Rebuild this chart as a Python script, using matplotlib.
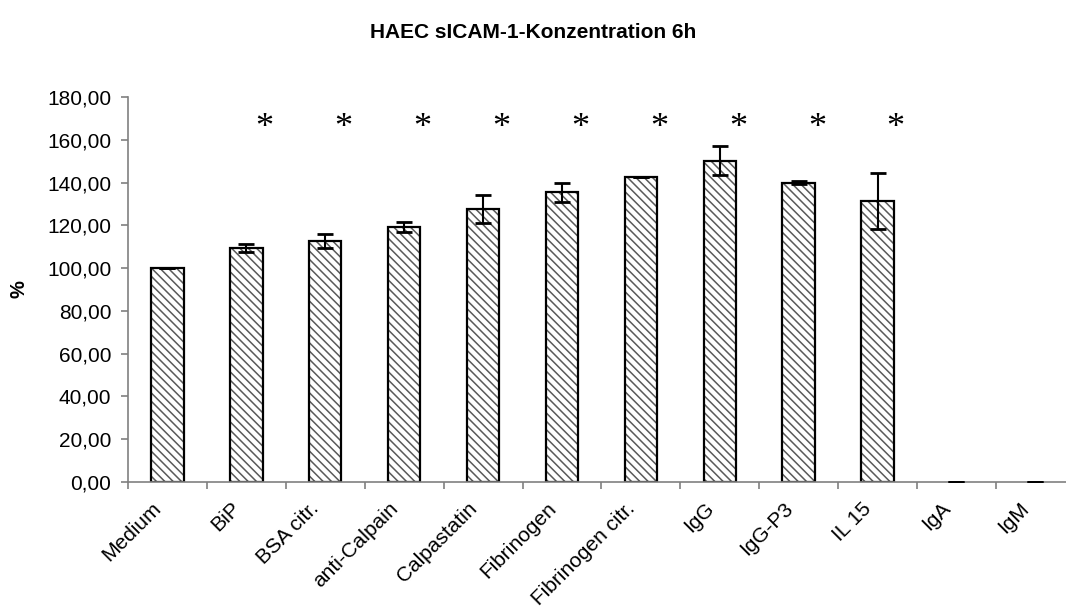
import matplotlib
matplotlib.use("Agg")
import matplotlib.pyplot as plt
import numpy as np

plt.rcParams['font.family'] = ['Liberation Sans', 'DejaVu Sans']
plt.rcParams['hatch.linewidth'] = 1.1

categories = ["Medium", "BiP", "BSA citr.", "anti-Calpain", "Calpastatin", "Fibrinogen",
              "Fibrinogen citr.", "IgG", "IgG-P3", "IL 15", "IgA", "IgM"]
values = [100.0, 109.3, 112.8, 119.3, 127.8, 135.4, 142.8, 150.3, 140.0, 131.5, 0.0, 0.0]
errors = [0.0, 1.8, 3.2, 2.2, 6.5, 4.3, 0.0, 7.0, 0.6, 13.0, 0.0, 0.0]
significant = [False, True, True, True, True, True, True, True, True, True, False, False]

fig = plt.figure(figsize=(10.66, 6.13), dpi=100)
ax = fig.add_axes([128 / 1066, 1 - 482 / 613, 12 * 78.9 / 1066, 385 / 613])

x = np.arange(len(categories))
lw = [1.6 if v > 0 else 0 for v in values]
# hatch layer, then outline layer
ax.bar(x, values, width=0.41, color='white', edgecolor='#5a5a5a', hatch='\\\\\\\\', linewidth=0)
ax.bar(x, values, width=0.41, fill=False, edgecolor='black', linewidth=lw)
ax.errorbar(x, values, yerr=errors, fmt='none', ecolor='black', elinewidth=1.5,
            capsize=5.5, capthick=2, zorder=3)

for i, s in enumerate(significant):
    if s:
        ax.text(i + 0.23, 165.5, '*', ha='center', va='center', fontsize=26,
                family='Liberation Serif')

ax.set_xlim(-0.5, 11.5)
ax.set_ylim(0, 180)
ax.set_yticks(np.arange(0, 181, 20))
ax.set_yticklabels([f"{v:.2f}".replace('.', ',') for v in np.arange(0, 181, 20)])
ax.set_xticks(x - 0.5)
ax.set_xticklabels([])
# labels sit a little left of the bar centres, like the original
ax.set_xticks(x - 0.2, minor=True)
ax.set_xticklabels(categories, minor=True, rotation=45, ha='right', va='top',
                   rotation_mode='anchor')
ax.tick_params(axis='x', which='minor', length=0, pad=12, labelsize=15)
ax.tick_params(axis='x', which='major', length=5, color='#808080', width=1.2)
ax.tick_params(axis='y', length=5, color='#808080', width=1.2, labelsize=15, pad=7)

for sp in ['top', 'right']:
    ax.spines[sp].set_visible(False)
for sp in ['left', 'bottom']:
    ax.spines[sp].set_color('#808080')
    ax.spines[sp].set_linewidth(1.2)

fig.text(0.5, 1 - 32 / 613, "HAEC sICAM-1-Konzentration 6h", ha='center', va='center',
         fontsize=15, fontweight='bold')
fig.text(19 / 1066, 1 - 289 / 613, "%", rotation=90, ha='center', va='center',
         fontsize=14.5, fontweight='bold')

fig.savefig("out.png", dpi=100)
